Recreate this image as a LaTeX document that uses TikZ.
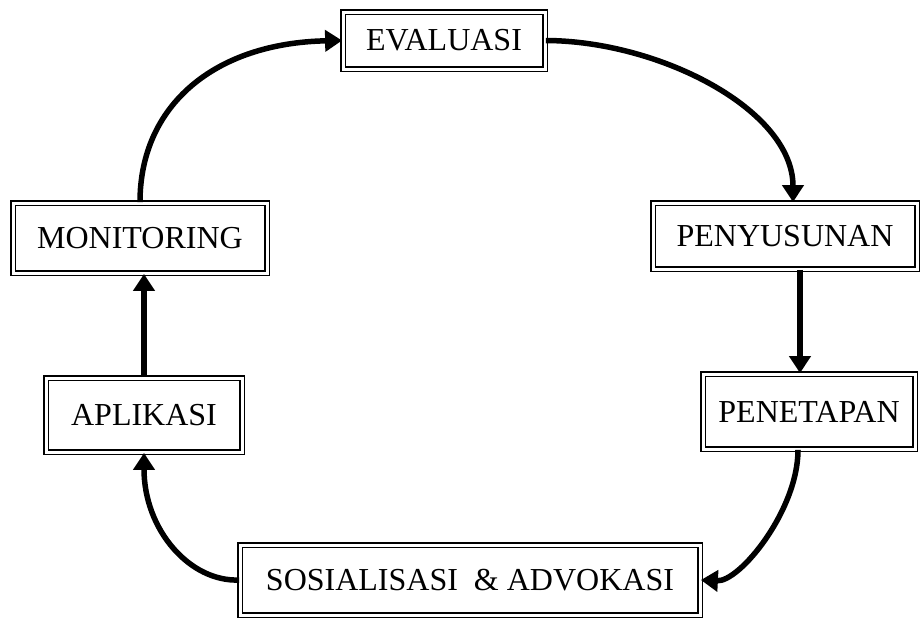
\documentclass[tikz,border=0pt]{standalone}
\usepackage{fontspec}
\setmainfont{Liberation Serif}
\usetikzlibrary{arrows.meta}
\begin{document}
\begin{tikzpicture}[x=1pt,y=-1pt,
  box/.style={draw=black, line width=1.8pt, double=white, double distance=3pt,
    inner sep=0pt, font=\fontsize{32}{38}\selectfont, align=center},
  arr/.style={line width=5.5pt, -{Triangle[width=21pt,length=17pt]}}]
\useasboundingbox (0,0) rectangle (921,619);
\node[box, minimum width=202pt, minimum height=57pt] (eva) at (444,40.5) {EVALUASI};
\node[box, minimum width=254pt, minimum height=70pt] (mon) at (140,238) {MONITORING};
\node[box, minimum width=264pt, minimum height=66pt] (peny) at (785,236) {PENYUSUNAN};
\node[box, minimum width=212pt, minimum height=75pt] (pent) at (809,411.5) {PENETAPAN};
\node[box, minimum width=196pt, minimum height=74pt] (apl) at (144,415) {APLIKASI};
\node[box, minimum width=460pt, minimum height=70pt] (sos) at (470,580) {SOSIALISASI\ \ \&\ ADVOKASI};
\draw[arr] (mon.north) .. controls (140,105) and (215,43) .. (eva.west);
\draw[arr] (eva.east) .. controls (660,41) and (793,110) .. ([xshift=8pt]peny.north);
\draw[arr] ([xshift=15pt]peny.south) -- ([xshift=-9pt]pent.north);
\draw[arr] ([xshift=-11pt]pent.south) .. controls (798,510) and (740,582) .. (sos.east);
\draw[arr] (sos.west) .. controls (190,582) and (144,530) .. (apl.south);
\draw[arr] (apl.north) -- (apl.north |- mon.south);
\end{tikzpicture}
\end{document}
